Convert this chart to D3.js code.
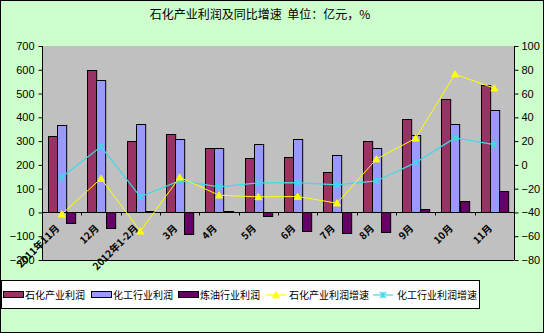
<!DOCTYPE html>
<html><head><meta charset="utf-8">
<script src="https://cdn.jsdelivr.net/npm/d3@7"></script>
<style>
html,body{margin:0;padding:0;background:#fff;}
svg{display:block;}
text{font-family:"Liberation Sans",Arial,sans-serif;}
.cjk{font-family:"Noto Sans CJK SC","DejaVu Sans",sans-serif;}
</style></head>
<body>
<script>
const categories = ["2011年11月","12月","2012年1-2月","3月","4月","5月","6月","7月","8月","9月","10月","11月"];
const petroProfit = [320,601,299,328,273,228,235,172,299,391,479,534];
const chemProfit  = [366,555,370,307,273,287,307,240,273,324,370,429];
const refineProfit= [-44,-67,8,-92,8,-13,-76,-88,-84,13,50,89];
const petroGrowth = [-41.5,-11.5,-55.8,-10.4,-25.5,-26.9,-26.6,-32.2,4.8,22.4,76.3,64.5];
const chemGrowth  = [-10.4,15.4,-26.9,-13.2,-18.5,-15.1,-14.9,-16.8,-13.5,1.9,22.7,17.1];
const leftTicks = [-200,-100,0,100,200,300,400,500,600,700];
const rightTicks = [-80,-60,-40,-20,0,20,40,60,80,100];
const barSeries = ["石化产业利润","化工行业利润","炼油行业利润"];
const lineSeries = ["石化产业利润增速","化工行业利润增速"];
const title = "石化产业利润及同比增速\u00A0\u00A0单位：亿元，%";

const W=544,H=333;
const colors = {bar:["#993366","#9999FF","#660066"], line:["#FFFF00","#40D8E8"]};
const svg = d3.select("body").append("svg").attr("width",W).attr("height",H);
svg.append("rect").attr("x",0.5).attr("y",0.5).attr("width",W-1).attr("height",H-1)
  .attr("fill","#CCFFCC").attr("stroke","#000");

svg.append("text").attr("class","cjk").attr("x",260).attr("y",19).attr("text-anchor","middle")
  .attr("font-size",12).attr("fill","#000").text(title);

const L=42,R=514,T=46,B=260;
const x = d3.scaleBand().domain(categories).range([L,R]).paddingInner(0.3).paddingOuter(0.15);
const step = x.step();
const xs = d3.scaleBand().domain([0,1,2]).range([0,x.bandwidth()]);
const yL = d3.scaleLinear().domain([-200,700]).range([B,T]);
const yR = d3.scaleLinear().domain([-80,100]).range([B,T]);

svg.append("rect").attr("x",L).attr("y",T).attr("width",R-L).attr("height",B-T).attr("fill","#C0C0C0");
svg.append("line").attr("x1",L).attr("x2",R).attr("y1",B+0.5).attr("y2",B+0.5).attr("stroke","#000");

// bars
const barData = [petroProfit,chemProfit,refineProfit];
barData.forEach((arr,si)=>{
  svg.append("g").selectAll("rect").data(arr).join("rect")
    .attr("x",(d,i)=>Math.round(x(categories[i])+xs(si))+0.5)
    .attr("width",xs.bandwidth())
    .attr("y",d=>Math.round(Math.min(yL(d),yL(0)))+0.5)
    .attr("height",d=>Math.abs(Math.round(yL(d))-Math.round(yL(0))))
    .attr("fill",colors.bar[si]).attr("stroke","#000").attr("stroke-width",1);
});

// category axis at 0
const y0 = Math.round(yL(0))+0.5;
svg.append("line").attr("x1",L).attr("x2",R).attr("y1",y0).attr("y2",y0).attr("stroke","#000");
for(let i=0;i<=categories.length;i++){
  const xx = Math.round(L+i*step)+0.5;
  svg.append("line").attr("x1",xx).attr("x2",xx).attr("y1",y0).attr("y2",y0+3).attr("stroke","#000");
}

// left axis
const gL = svg.append("g").attr("transform",`translate(${L+0.5},0)`)
  .call(d3.axisLeft(yL).tickValues(leftTicks).tickSize(4).tickPadding(4).tickFormat(d3.format("d")));
gL.selectAll("path,line").attr("stroke","#000");
gL.select(".domain").attr("d",`M0,${T}V${B}`);
gL.selectAll("text").attr("font-size",11).attr("fill","#000").attr("font-family","Liberation Sans, Arial, sans-serif");

const gR = svg.append("g").attr("transform",`translate(${R+0.5},0)`)
  .call(d3.axisRight(yR).tickValues(rightTicks).tickSize(4).tickPadding(3).tickFormat(d3.format("d")));
gR.selectAll("path,line").attr("stroke","#000");
gR.select(".domain").attr("d",`M0,${T}V${B}`);
gR.selectAll("text").attr("font-size",11).attr("fill","#000").attr("font-family","Liberation Sans, Arial, sans-serif");

// lines
const cx = c => x(c)+x.bandwidth()/2;
const lineGen = d3.line().x((d,i)=>cx(categories[i])).y(d=>yR(d));
svg.append("path").datum(chemGrowth).attr("d",lineGen).attr("fill","none").attr("stroke",colors.line[1]).attr("stroke-width",1.2);
svg.append("path").datum(petroGrowth).attr("d",lineGen).attr("fill","none").attr("stroke",colors.line[0]).attr("stroke-width",1);

function star(g,px,py,col){
  const s=3;
  g.append("path").attr("d",`M${px-s},${py-s}L${px+s},${py+s}M${px-s},${py+s}L${px+s},${py-s}M${px},${py-s}V${py+s}`)
    .attr("stroke",col).attr("stroke-width",1.3).attr("fill","none");
}
function tri(g,px,py,col){
  const s=3.5;
  g.append("path").attr("d",`M${px},${py-s}L${px+s},${py+s*0.8}L${px-s},${py+s*0.8}Z`).attr("fill",col).attr("stroke",col);
}
const gm = svg.append("g");
chemGrowth.forEach((d,i)=>star(gm,cx(categories[i]),yR(d),colors.line[1]));
petroGrowth.forEach((d,i)=>tri(gm,cx(categories[i]),yR(d),colors.line[0]));

// x labels
svg.append("g").selectAll("text").data(categories).join("text")
  .attr("class","cjk")
  .attr("transform",c=>`translate(${cx(c)-4},${y0+14}) rotate(-45)`)
  .attr("text-anchor","end").attr("dy","0.35em")
  .attr("font-size",10).attr("font-weight","bold").attr("fill","#000")
  .text(c=>c);

// legend
const lg = svg.append("g");
lg.append("rect").attr("x",1.5).attr("y",280.5).attr("width",478).attr("height",28).attr("fill","#fff").attr("stroke","#000");
const items = [
  {type:"bar",col:colors.bar[0],name:barSeries[0],sx:3,tx:25},
  {type:"bar",col:colors.bar[1],name:barSeries[1],sx:91,tx:113},
  {type:"bar",col:colors.bar[2],name:barSeries[2],sx:178,tx:200},
  {type:"line",col:colors.line[0],name:lineSeries[0],sx:266,tx:289,m:"tri"},
  {type:"line",col:colors.line[1],name:lineSeries[1],sx:373,tx:397,m:"star"}
];
const ly=295;
items.forEach(it=>{
  if(it.type==="bar"){
    lg.append("rect").attr("x",it.sx+0.5).attr("y",ly-3.5).attr("width",20).attr("height",6).attr("fill",it.col).attr("stroke","#000");
  } else {
    lg.append("line").attr("x1",it.sx).attr("x2",it.sx+20).attr("y1",ly).attr("y2",ly).attr("stroke",it.col).attr("stroke-width",1.2);
    if(it.m==="tri") tri(lg,it.sx+10,ly,it.col); else star(lg,it.sx+10,ly,it.col);
  }
  lg.append("text").attr("class","cjk").attr("x",it.tx).attr("y",ly).attr("dy","0.35em")
    .attr("font-size",10).attr("fill","#000").text(it.name);
});
</script>
</body></html>
